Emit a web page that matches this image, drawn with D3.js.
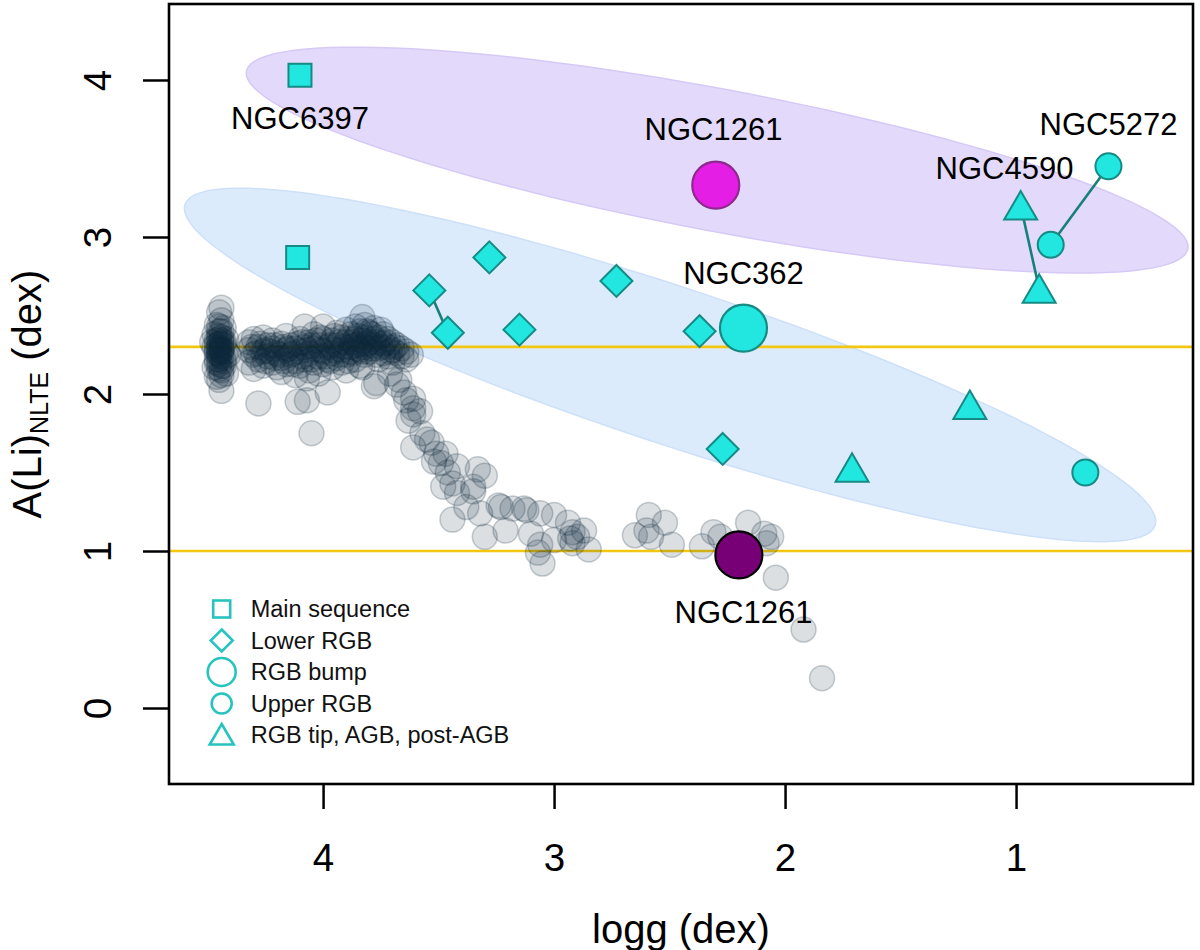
<!DOCTYPE html>
<meta charset="utf-8">
<title>A(Li) vs logg</title>
<body>
<script src="https://cdn.jsdelivr.net/npm/d3@7"></script>
<style>
html, body {
    margin: 0;
    background: #fff;
}
svg {
    display: block;
    font-family: "Liberation Sans", Arial, sans-serif;
}
</style>
<script>
var width = 1200,
    height = 950,
    plotL = 169, plotR = 1193, plotT = 4, plotB = 784;

// axes
var xTicks = [4, 3, 2, 1],
    yTicks = [0, 1, 2, 3, 4];

// Li plateau / RGB dilution levels
var refLevels = [2.3, 1.0];

// field stars (logg, A(Li))
var fieldStars = [
    [4.45,2.52],[4.44,2.47],[4.46,2.44],[4.43,2.42],[4.45,2.40],[4.47,2.38],[4.44,2.36],[4.42,2.35],
    [4.46,2.34],[4.45,2.32],[4.43,2.31],[4.47,2.30],[4.44,2.29],[4.46,2.28],[4.42,2.27],[4.45,2.26],
    [4.44,2.24],[4.46,2.22],[4.43,2.21],[4.45,2.19],[4.47,2.17],[4.44,2.15],[4.42,2.13],[4.46,2.11],
    [4.45,2.09],[4.44,2.02],[4.41,2.25],[4.48,2.33],[4.44,2.55],[4.45,2.30],[4.44,2.27],[4.45,2.35],
    [4.44,2.40],[4.45,2.37],[4.43,2.33],[4.46,2.31],[4.44,2.28],[4.45,2.25],[4.43,2.23],[4.46,2.20],
    [4.44,2.18],[4.45,2.16],[4.44,2.12],[4.45,2.43],[4.44,2.34],[4.46,2.26],[4.43,2.18],[4.45,2.22],
    [4.44,2.32],[4.45,2.28],
    [4.32,2.28],[4.32,2.20],[4.32,2.33],[4.30,2.25],[4.30,2.35],[4.30,2.16],[4.28,2.30],[4.28,2.22],
    [4.28,1.94],[4.26,2.27],[4.26,2.18],[4.26,2.36],[4.24,2.31],[4.24,2.24],[4.22,2.20],[4.22,2.29],
    [4.22,2.34],[4.20,2.26],[4.20,2.17],[4.18,2.32],[4.18,2.23],[4.18,2.14],[4.16,2.28],[4.16,2.19],
    [4.16,2.37],[4.14,2.25],[4.14,2.31],[4.12,2.21],[4.12,2.29],[4.12,2.12],[4.11,1.95],[4.10,2.27],
    [4.10,2.35],[4.10,2.18],[4.08,2.43],[4.08,2.30],[4.08,2.22],[4.07,1.96],[4.07,2.10],[4.06,2.26],
    [4.06,2.33],[4.06,2.15],[4.05,1.75],[4.04,2.29],[4.04,2.20],[4.04,2.38],[4.02,2.24],[4.02,2.31],
    [4.02,2.13],[4.00,2.43],[4.00,2.27],[4.00,2.19],[4.00,2.35],[3.98,2.01],[3.98,2.30],[3.98,2.22],
    [3.96,2.26],[3.96,2.34],[3.96,2.17],[3.94,2.31],[3.94,2.39],[3.94,2.23],[3.92,2.28],[3.92,2.36],
    [3.92,2.20],[3.90,2.33],[3.90,2.41],[3.90,2.25],[3.90,2.15],[3.88,2.30],[3.88,2.38],[3.88,2.27],
    [3.86,2.35],[3.86,2.43],[3.86,2.22],[3.86,2.31],[3.84,2.32],[3.84,2.40],[3.84,2.28],[3.84,2.18],
    [3.83,2.49],[3.83,2.17],[3.82,2.36],[3.82,2.30],[3.82,2.44],[3.82,2.25],[3.80,2.33],[3.80,2.39],
    [3.80,2.27],[3.78,2.35],[3.78,2.31],[3.78,2.42],[3.78,2.05],[3.76,2.29],[3.76,2.36],[3.76,2.22],
    [3.74,2.32],[3.74,2.26],[3.74,2.38],[3.72,2.30],[3.72,2.24],[3.72,2.35],[3.71,2.13],[3.70,2.28],
    [3.70,2.33],[3.70,2.20],[3.68,2.26],[3.68,2.31],[3.67,2.09],[3.66,2.24],[3.66,2.29],[3.64,2.22],
    [3.64,2.27],[3.62,2.25],
    [4.31,2.30],[4.29,2.26],[4.27,2.32],[4.25,2.21],[4.23,2.27],[4.21,2.31],[4.19,2.25],[4.17,2.21],
    [4.15,2.29],[4.13,2.26],[4.11,2.32],[4.09,2.24],[4.07,2.28],[4.05,2.22],[4.03,2.34],[4.01,2.28],
    [3.99,2.24],[3.97,2.31],[3.95,2.28],[3.93,2.33],[3.91,2.30],[3.89,2.35],[3.87,2.33],[3.85,2.37],
    [3.83,2.34],[3.81,2.32],[3.79,2.38],[3.77,2.33],[3.75,2.30],[3.73,2.33],[3.71,2.27],[3.69,2.30],
    [3.87,2.26],[3.85,2.29],[3.83,2.27],[3.81,2.40],[3.79,2.29],[3.93,2.25],[3.97,2.21],[4.01,2.36],
    [4.05,2.31],[4.09,2.33],[4.13,2.19],[4.17,2.30],[4.21,2.23],[4.25,2.28],[3.89,2.21],[3.95,2.37],
    [3.75,2.41],[3.77,2.25],
    [3.77,2.07],[3.68,2.06],[3.65,2.01],[3.64,1.96],[3.61,1.97],[3.61,1.91],
    [3.58,1.89],[3.63,1.83],[3.61,1.87],[3.57,1.75],[3.55,1.71],[3.61,1.66],[3.53,1.69],[3.51,1.62],
    [3.52,1.57],[3.49,1.56],[3.47,1.62],[3.46,1.50],[3.48,1.41],[3.42,1.54],[3.44,1.43],[3.42,1.37],
    [3.35,1.38],[3.33,1.52],[3.30,1.48],[3.35,1.41],[3.38,1.28],[3.44,1.20],[3.32,1.24],[3.24,1.29],
    [3.23,1.28],[3.30,1.09],[3.21,1.13],[3.18,1.27],[3.13,1.27],[3.12,1.26],[3.06,1.24],[3.00,1.23],
    [3.10,1.11],[3.07,0.99],[3.05,0.92],[3.06,1.04],[2.94,1.18],[2.92,1.12],[2.90,1.09],[2.87,1.13],
    [2.92,1.05],[2.85,1.01],[2.93,1.08],[3.00,1.07],[2.65,1.10],[2.59,1.23],[2.60,1.13],[2.58,1.09],
    [2.52,1.18],[2.49,1.04],[2.36,1.03],[2.31,1.12],[2.28,1.09],[2.16,1.18],[2.09,1.11],[2.06,1.09],
    [2.08,1.05],[2.04,0.83],[1.92,0.50],[1.84,0.19]
];

// cluster stars by evolutionary phase
var msLogg = [4.10, 4.11],
    msALi  = [4.03, 2.87];
var lowerLogg = [3.54, 3.46, 3.28, 3.15, 2.73, 2.37, 2.27],
    lowerALi  = [2.66, 2.39, 2.87, 2.41, 2.72, 2.40, 1.65];
var bumpLogg  = [2.30, 2.18, 2.20],
    bumpALi   = [3.33, 2.42, 0.975],
    bumpFill  = ["#e41ee4", "#22e6e0", "#770077"],
    bumpEdge  = ["#8e2a8e", "#168a84", "#000000"];
var upperLogg = [0.60, 0.85, 0.70],
    upperALi  = [3.45, 2.95, 1.50];
var tipLogg   = [0.98, 0.90, 1.71, 1.20],
    tipALi    = [3.20, 2.67, 1.53, 1.93];

// same-cluster pairs joined by a segment: [group, i, j]
var links = [["lower", 0, 1], ["upper", 0, 1], ["tip", 0, 1]];

// cluster labels: text, logg, A(Li) of baseline
var labelText = ["NGC6397", "NGC1261", "NGC362", "NGC1261", "NGC4590", "NGC5272"],
    labelLogg = [4.10, 2.31, 2.18, 2.18, 1.05, 0.60],
    labelALi  = [3.69, 3.62, 2.70, 0.54, 3.37, 3.65];

// two Li-rich regions: centre and conjugate semi-axes, data units
var regionCenter = [[2.294, 3.49], [2.498, 2.185]],
    regionMajor  = [[-2.038, -0.566], [-2.100, -1.022]],
    regionMinor  = [[0.057, -0.444], [0.106, -0.472]],
    regionFill   = ["#e3dafb", "#dcebfc"],
    regionEdge   = ["#d6c9f6", "#cde0f8"];

var legendText = ["Main sequence", "Lower RGB", "RGB bump", "Upper RGB", "RGB tip, AGB, post-AGB"],
    legendShape = ["square", "diamond", "bigcircle", "circle", "triangle"];

var x = d3.scaleLinear().domain([4.667, 0.234]).range([plotL, plotR]),
    y = d3.scaleLinear().domain([-0.484, 4.484]).range([plotB, plotT]);

var svg = d3.select("body").append("svg")
    .attr("width", width)
    .attr("height", height);

svg.append("defs").append("clipPath").attr("id", "plot")
    .append("rect").attr("x", plotL).attr("y", plotT)
    .attr("width", plotR - plotL).attr("height", plotB - plotT);

var plot = svg.append("g").attr("clip-path", "url(#plot)");

// regions
var steps = d3.range(0, 121).map(function(i) { return i / 120 * 2 * Math.PI; });
regionCenter.forEach(function(c, k) {
    var M = regionMajor[k], m = regionMinor[k];
    var pts = steps.map(function(t) {
        return [x(c[0] + Math.cos(t) * M[0] + Math.sin(t) * m[0]),
                y(c[1] + Math.cos(t) * M[1] + Math.sin(t) * m[1])];
    });
    plot.append("path")
        .attr("d", d3.line()(pts) + "Z")
        .attr("fill", regionFill[k])
        .attr("stroke", regionEdge[k])
        .attr("stroke-width", 1.5);
});

// reference levels
plot.selectAll("line.ref").data(refLevels).enter().append("line")
    .attr("class", "ref")
    .attr("x1", plotL).attr("x2", plotR)
    .attr("y1", function(d) { return y(d); })
    .attr("y2", function(d) { return y(d); })
    .attr("stroke", "#f3c711")
    .attr("stroke-width", 2.6);

// field stars
plot.selectAll("circle.field").data(fieldStars).enter().append("circle")
    .attr("class", "field")
    .attr("cx", function(d) { return x(d[0]); })
    .attr("cy", function(d) { return y(d[1]); })
    .attr("r", 12.5)
    .attr("fill", "#0c2a3c")
    .attr("fill-opacity", 0.15)
    .attr("stroke", "#0c2a3c")
    .attr("stroke-opacity", 0.22)
    .attr("stroke-width", 1.5);

function shapePath(type, px, py) {
    var s;
    if (type === "square") {
        s = 11.5;
        return "M" + (px - s) + "," + (py - s) + "h" + 2 * s + "v" + 2 * s + "h" + (-2 * s) + "Z";
    }
    if (type === "diamond") {
        s = 16;
        return "M" + px + "," + (py - s) + "L" + (px + s) + "," + py + "L" + px + "," + (py + s) + "L" + (px - s) + "," + py + "Z";
    }
    if (type === "triangle") {
        return "M" + px + "," + (py - 14.5) + "L" + (px + 16.5) + "," + (py + 14) + "L" + (px - 16.5) + "," + (py + 14) + "Z";
    }
}

var groups = {
    ms:    { logg: msLogg, ali: msALi, shape: "square" },
    lower: { logg: lowerLogg, ali: lowerALi, shape: "diamond" },
    upper: { logg: upperLogg, ali: upperALi, shape: "circle" },
    tip:   { logg: tipLogg, ali: tipALi, shape: "triangle" }
};

// connecting segments
links.forEach(function(l) {
    var g = groups[l[0]];
    plot.append("line")
        .attr("x1", x(g.logg[l[1]])).attr("y1", y(g.ali[l[1]]))
        .attr("x2", x(g.logg[l[2]])).attr("y2", y(g.ali[l[2]]))
        .attr("stroke", "#17807b")
        .attr("stroke-width", 2.6);
});

var cyan = "#22e6e0", teal = "#168a84";

Object.keys(groups).forEach(function(key) {
    var g = groups[key];
    g.logg.forEach(function(lg, i) {
        var px = x(lg), py = y(g.ali[i]);
        if (g.shape === "circle") {
            plot.append("circle").attr("cx", px).attr("cy", py).attr("r", 13)
                .attr("fill", cyan).attr("stroke", teal).attr("stroke-width", 2);
        } else {
            plot.append("path").attr("d", shapePath(g.shape, px, py))
                .attr("fill", cyan).attr("stroke", teal).attr("stroke-width", 2)
                .attr("stroke-linejoin", "miter");
        }
    });
});

bumpLogg.forEach(function(lg, i) {
    plot.append("circle")
        .attr("cx", x(lg)).attr("cy", y(bumpALi[i])).attr("r", 23.5)
        .attr("fill", bumpFill[i]).attr("stroke", bumpEdge[i]).attr("stroke-width", 2.2);
});

// labels
plot.selectAll("text.lab").data(labelText).enter().append("text")
    .attr("class", "lab")
    .attr("x", function(d, i) { return x(labelLogg[i]); })
    .attr("y", function(d, i) { return y(labelALi[i]); })
    .attr("text-anchor", "middle")
    .attr("font-size", 31)
    .attr("fill", "#000")
    .text(function(d) { return d; });

// legend
var leg = svg.append("g");
var lx = 221.7, ly0 = 609, dy = 31.5, legCol = "#27c4bf";
legendText.forEach(function(t, i) {
    var py = ly0 + i * dy, sh = legendShape[i];
    if (sh === "square") {
        leg.append("rect").attr("x", lx - 8.5).attr("y", py - 8.5).attr("width", 17).attr("height", 17);
    } else if (sh === "diamond") {
        leg.append("path").attr("d", "M" + lx + "," + (py - 11) + "L" + (lx + 11) + "," + py + "L" + lx + "," + (py + 11) + "L" + (lx - 11) + "," + py + "Z");
    } else if (sh === "bigcircle") {
        leg.append("circle").attr("cx", lx).attr("cy", py).attr("r", 14);
    } else if (sh === "circle") {
        leg.append("circle").attr("cx", lx).attr("cy", py).attr("r", 10);
    } else {
        leg.append("path").attr("d", "M" + lx + "," + (py - 11) + "L" + (lx + 12) + "," + (py + 9.5) + "L" + (lx - 12) + "," + (py + 9.5) + "Z");
    }
    leg.append("text")
        .attr("x", 250.7).attr("y", py + 8.3)
        .attr("font-size", 23.5)
        .attr("fill", "#111")
        .text(t);
});
leg.selectAll("rect, path, circle")
    .attr("fill", "none").attr("stroke", legCol).attr("stroke-width", 2.6);

// axes
var gx = svg.append("g")
    .attr("transform", "translate(0," + plotB + ")")
    .call(d3.axisBottom(x).tickValues(xTicks).tickSize(25).tickSizeOuter(0).tickPadding(35).tickFormat(d3.format("d")));
var gy = svg.append("g")
    .attr("transform", "translate(" + plotL + ",0)")
    .call(d3.axisLeft(y).tickValues(yTicks).tickSize(26).tickSizeOuter(0).tickFormat(d3.format("d")));

[gx, gy].forEach(function(g) {
    g.select(".domain").remove();
    g.selectAll(".tick line").attr("stroke", "#000").attr("stroke-width", 2.5);
    g.selectAll(".tick text")
        .attr("fill", "#000")
        .attr("font-size", 38.5)
        .attr("font-family", "Liberation Sans, Arial, sans-serif");
});
gy.selectAll(".tick text")
    .attr("x", null).attr("dy", null)
    .attr("text-anchor", "middle")
    .attr("transform", "translate(-58,0) rotate(-90)");

svg.append("rect")
    .attr("x", plotL).attr("y", plotT)
    .attr("width", plotR - plotL).attr("height", plotB - plotT)
    .attr("fill", "none").attr("stroke", "#000").attr("stroke-width", 2.6);

// axis titles
svg.append("text")
    .attr("x", (plotL + plotR) / 2).attr("y", 943)
    .attr("text-anchor", "middle")
    .attr("font-size", 40)
    .text("logg (dex)");

var yt = svg.append("text")
    .attr("transform", "translate(41," + (plotT + plotB) / 2 + ") rotate(-90)")
    .attr("text-anchor", "middle")
    .attr("font-size", 40);
yt.append("tspan").text("A(Li)");
yt.append("tspan").attr("font-size", 25).attr("dy", 7).text("NLTE");
yt.append("tspan").attr("dy", -7).text(" (dex)");
</script>
